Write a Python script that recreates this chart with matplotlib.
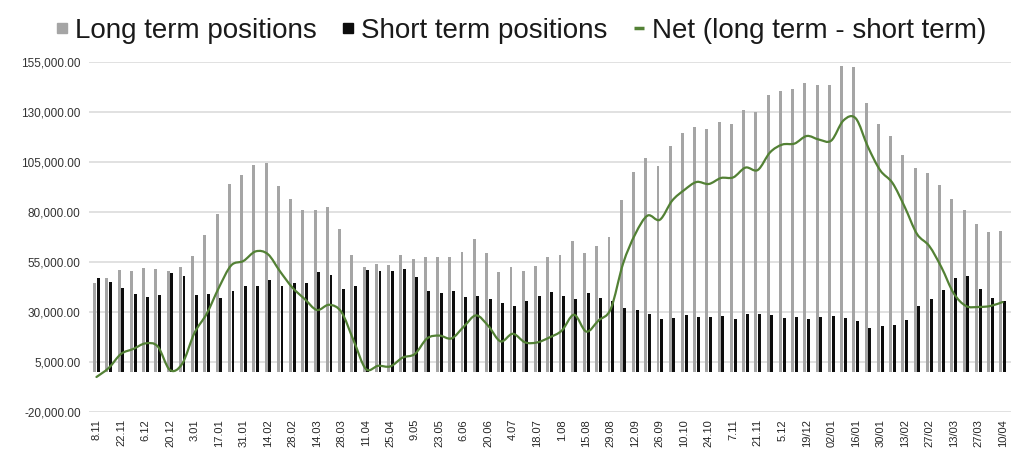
import numpy as np
import matplotlib.pyplot as plt
from matplotlib.path import Path
from matplotlib.patches import PathPatch
from matplotlib.lines import Line2D
from matplotlib.ticker import FuncFormatter

plt.rcParams['font.family'] = ['Liberation Sans', 'DejaVu Sans']

# weekly values
long_term = [44300, 46800, 51000, 50700, 52000, 51500, 50700, 52300, 58200, 68300,
             79000, 93800, 98500, 103300, 104700, 93200, 86500, 80800, 81200, 82300,
             71700, 58700, 52500, 53800, 53500, 58700, 56700, 57300, 57700, 57300,
             60200, 66300, 59700, 50000, 52300, 50500, 52800, 57300, 58700, 65300,
             59700, 62800, 67300, 86000, 99800, 107200, 102800, 112800, 119500, 122500,
             121500, 125000, 123800, 131200, 130000, 138300, 140700, 141700, 144500, 143700,
             143700, 152800, 152300, 134300, 124000, 118200, 108500, 102000, 99300, 93300,
             86500, 81200, 74000, 70200, 70700]
short_term = [46800, 44800, 42000, 39200, 37700, 38700, 49700, 48200, 38700, 39200,
              36800, 40500, 43000, 43000, 45800, 43000, 44300, 44300, 50200, 48700,
              41700, 43000, 51000, 50700, 50700, 51500, 47700, 40500, 39500, 40500,
              37500, 38000, 36700, 34700, 33200, 35700, 38000, 40000, 38000, 36700,
              39500, 37000, 35700, 31800, 30800, 29000, 26700, 27200, 28500, 27500,
              27500, 28000, 26500, 29000, 29000, 28500, 27000, 27500, 26500, 27500,
              28000, 27000, 25500, 21800, 23200, 23700, 26000, 33000, 36300, 41000,
              47200, 48200, 41500, 37200, 35700]
# only every second week is labelled
tick_labels = ['8.11', '22.11', '6.12', '20.12', '3.01', '17.01', '31.01', '14.02',
               '28.02', '14.03', '28.03', '11.04', '25.04', '9.05', '23.05', '6.06',
               '20.06', '4.07', '18.07', '1.08', '15.08', '29.08', '12.09', '26.09',
               '10.10', '24.10', '7.11', '21.11', '5.12', '19/12', '02/01', '16/01',
               '30/01', '13/02', '27/02', '13/03', '27/03', '10/04']

GRAY = '#a5a5a5'
BLACK = '#0d0d0d'
GREEN = '#538135'


def smooth_path(x, y):
    # excel-like smoothed line: cubic bezier through every point
    pts = np.column_stack([x, y]).astype(float)
    verts = [pts[0]]
    codes = [Path.MOVETO]
    n = len(pts)
    for i in range(n - 1):
        p0 = pts[max(i - 1, 0)]
        p1 = pts[i]
        p2 = pts[i + 1]
        p3 = pts[min(i + 2, n - 1)]
        c1 = p1 + (p2 - p0) / 6.0
        c2 = p2 - (p3 - p1) / 6.0
        verts += [c1, c2, p2]
        codes += [Path.CURVE4] * 3
    return Path(verts, codes)


long_arr = np.array(long_term)
short_arr = np.array(short_term)
net = long_arr - short_arr
x = np.arange(len(long_term))

fig = plt.figure(figsize=(10.3, 4.71), dpi=100)
ax = fig.add_axes([0.0864, 0.1253, 0.8952, 0.7431])

ax.bar(x - 0.15, long_arr, width=0.24, color=GRAY, zorder=2)
ax.bar(x + 0.15, short_arr, width=0.24, color=BLACK, zorder=2)
ax.add_patch(PathPatch(smooth_path(x, net), facecolor='none', edgecolor=GREEN,
                       lw=1.6, zorder=3, capstyle='round'))

ax.set_xlim(-0.61, len(x) - 1 + 0.68)
ax.set_ylim(-20000, 155000)
ax.set_yticks(np.arange(-20000, 155001, 25000))
ax.yaxis.set_major_formatter(FuncFormatter(lambda v, pos: f'{v:,.2f}'))
ax.set_xticks(x[::2])
ax.set_xticklabels(tick_labels, rotation=90)

ax.grid(axis='y', color='#d9d9d9', lw=1.1, zorder=0)
ax.set_axisbelow(True)
for s in ax.spines.values():
    s.set_visible(False)
ax.tick_params(axis='y', length=0, pad=6, labelsize=8.5, labelcolor='#333333')
ax.tick_params(axis='x', length=0, pad=5, labelsize=8, labelcolor='#262626')

handles = [
    Line2D([], [], marker='s', ls='none', color=GRAY, markersize=6.5),
    Line2D([], [], marker='s', ls='none', color=BLACK, markersize=6.5),
    Line2D([], [], marker='_', ls='none', color=GREEN, markersize=7, markeredgewidth=2.5),
]
labels = ['Long term positions', 'Short term positions', 'Net (long term - short term)']
fig.legend(handles, labels, loc='upper center', bbox_to_anchor=(0.506, 1.015), ncol=3,
           frameon=False, fontsize=20, handlelength=0.45, handletextpad=0.25,
           columnspacing=0.9, labelcolor='#1a1a1a')

fig.savefig('out.png', dpi=100)
